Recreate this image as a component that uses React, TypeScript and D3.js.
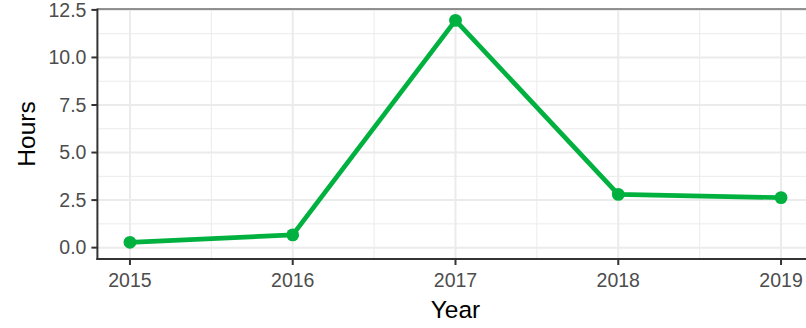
import React from "react";
import * as d3 from "d3";

const years = [2015, 2016, 2017, 2018, 2019];
const hours = [0.28, 0.67, 11.95, 2.8, 2.63];
const yTicks = [0, 2.5, 5, 7.5, 10, 12.5];
const yMinor = [1.25, 3.75, 6.25, 8.75, 11.25];
const xMinor = [2015.5, 2016.5, 2017.5, 2018.5];

const W = 806;
const H = 328;
const FONT = "'Liberation Sans', Arial, sans-serif";
const GREEN = "#00b140";

export default function App() {
  const x = d3.scaleLinear().domain([2014.8, 2019.2]).range([97.4, 813.6]);
  const y = d3.scaleLinear().domain([-0.5975, 12.5475]).range([259, 9]);
  const line = d3
    .line<number>()
    .x((_, i) => x(years[i]))
    .y((d) => y(d));
  const [x0, x1] = x.range();
  const [yb, yt] = y.range();
  return (
    <svg
      width={W}
      height={H}
      style={{ position: "absolute", left: 0, top: 0, background: "#fff" }}
    >
      <rect x={x0} y={yt} width={x1 - x0} height={yb - yt} fill="#fff" />
      {yMinor.map((v) => (
        <line key={"ym" + v} x1={x0} x2={x1} y1={y(v)} y2={y(v)} stroke="#ebebeb" strokeWidth={1} />
      ))}
      {xMinor.map((v) => (
        <line key={"xm" + v} x1={x(v)} x2={x(v)} y1={yt} y2={yb} stroke="#ebebeb" strokeWidth={1} />
      ))}
      {yTicks.map((v) => (
        <line key={"yg" + v} x1={x0} x2={x1} y1={y(v)} y2={y(v)} stroke="#ebebeb" strokeWidth={2} />
      ))}
      {years.map((v) => (
        <line key={"xg" + v} x1={x(v)} x2={x(v)} y1={yt} y2={yb} stroke="#ebebeb" strokeWidth={2} />
      ))}
      <line x1={x0} x2={x1} y1={yt} y2={yt} stroke="#6e6e6e" strokeWidth={1.5} />
      <path d={line(hours) || ""} fill="none" stroke={GREEN} strokeWidth={4.7} strokeLinejoin="round" />
      {hours.map((v, i) => (
        <circle key={"p" + i} cx={x(years[i])} cy={y(v)} r={6.4} fill={GREEN} />
      ))}
      <line x1={x0} x2={x0} y1={yt - 0.5} y2={yb + 1} stroke="#333" strokeWidth={2} />
      <line x1={x0 - 1} x2={x1} y1={yb} y2={yb} stroke="#333" strokeWidth={2} />
      {yTicks.map((v) => (
        <g key={"yt" + v}>
          <line x1={x0 - 6} x2={x0} y1={y(v)} y2={y(v)} stroke="#333" strokeWidth={2} />
          <text
            x={x0 - 11}
            y={y(v)}
            dy="0.35em"
            textAnchor="end"
            fontFamily={FONT}
            fontSize={19.5}
            fill="#4d4d4d"
          >
            {v.toFixed(1)}
          </text>
        </g>
      ))}
      {years.map((v) => (
        <g key={"xt" + v}>
          <line x1={x(v)} x2={x(v)} y1={yb} y2={yb + 6} stroke="#333" strokeWidth={2} />
          <text x={x(v)} y={287.3} textAnchor="middle" fontFamily={FONT} fontSize={19.5} fill="#4d4d4d">
            {v}
          </text>
        </g>
      ))}
      <text x={(x0 + x1) / 2} y={318.3} textAnchor="middle" fontFamily={FONT} fontSize={24.5} fill="#000">
        Year
      </text>
      <text
        transform={`translate(35, ${(yt + yb) / 2}) rotate(-90)`}
        textAnchor="middle"
        fontFamily={FONT}
        fontSize={24.5}
        fill="#000"
      >
        Hours
      </text>
    </svg>
  );
}
